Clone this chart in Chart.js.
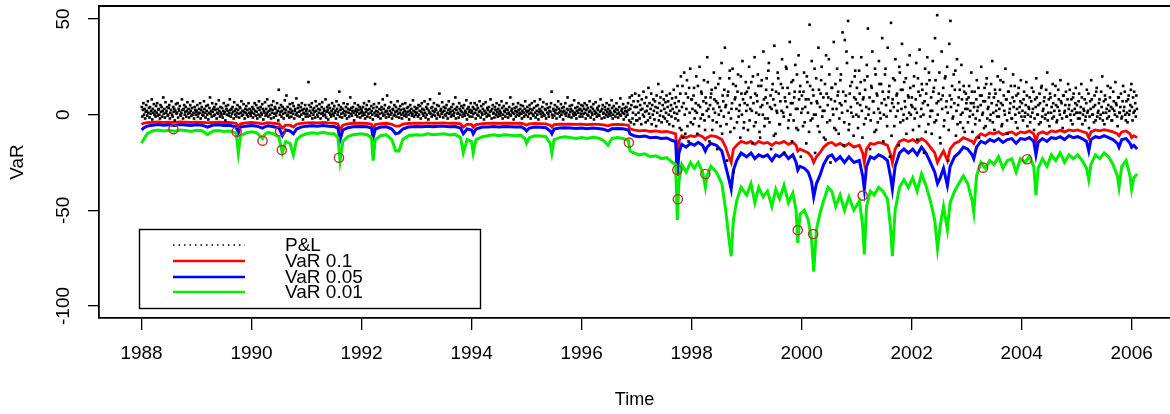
<!DOCTYPE html>
<html>
<head>
<meta charset="utf-8">
<script src="https://cdn.jsdelivr.net/npm/chart.js@4.4.1/dist/chart.umd.min.js"></script>
<style>
html,body{margin:0;padding:0;background:#fff;overflow:hidden}
canvas{display:block}
</style>
</head>
<body>
<canvas id="c" width="1170" height="414"></canvas>
<script>
// ---------- tick labels / names ----------
const xTicks = [1988, 1990, 1992, 1994, 1996, 1998, 2000, 2002, 2004, 2006];
const yTicks = [-100, -50, 0, 50];
const seriesNames = ['P&L', 'VaR 0.1', 'VaR 0.05', 'VaR 0.01'];

// ---------- VaR series (time in decimal years) ----------
const varTime = [
  1988.00,1988.04,1988.10,1988.20,1988.30,1988.40,1988.50,1988.60,1988.70,1988.80,
  1988.90,1989.00,1989.10,1989.20,1989.30,1989.40,1989.50,1989.60,1989.72,1989.76,
  1989.80,1989.90,1990.00,1990.10,1990.20,1990.25,1990.30,1990.40,1990.50,1990.56,
  1990.62,1990.70,1990.76,1990.82,1990.90,1991.00,1991.10,1991.20,1991.30,1991.40,
  1991.50,1991.57,1991.61,1991.66,1991.75,1991.85,1992.00,1992.10,1992.18,1992.21,
  1992.25,1992.35,1992.45,1992.55,1992.62,1992.68,1992.75,1992.85,1993.00,1993.10,
  1993.20,1993.30,1993.40,1993.50,1993.60,1993.70,1993.80,1993.85,1993.92,1994.00,
  1994.03,1994.08,1994.20,1994.30,1994.40,1994.50,1994.60,1994.70,1994.80,1994.90,
  1994.97,1995.00,1995.05,1995.15,1995.25,1995.35,1995.43,1995.46,1995.50,1995.60,
  1995.70,1995.80,1995.90,1996.00,1996.10,1996.20,1996.30,1996.40,1996.48,1996.55,
  1996.65,1996.75,1996.85,
  1996.88,1996.95,1997.05,1997.15,1997.25,1997.35,1997.45,1997.55,1997.65,1997.71,
  1997.74,1997.77,1997.82,1997.90,1997.98,1998.05,1998.12,1998.20,1998.25,1998.28,
  1998.35,1998.45,1998.55,1998.62,1998.68,1998.72,1998.76,1998.82,1998.90,1999.00,
  1999.08,1999.15,1999.22,1999.30,1999.38,1999.46,1999.53,1999.60,1999.68,1999.76,
  1999.84,1999.90,1999.93,1999.97,2000.05,2000.12,2000.18,2000.22,2000.27,2000.33,
  2000.40,2000.48,2000.55,2000.62,2000.70,2000.78,2000.86,2000.95,2001.05,2001.11,
  2001.14,2001.18,2001.25,2001.32,2001.40,2001.48,2001.56,2001.62,2001.65,2001.70,
  2001.78,2001.86,2001.94,2002.02,2002.10,2002.18,2002.26,2002.34,2002.42,2002.47,
  2002.52,2002.58,2002.65,2002.70,2002.78,2002.86,2002.94,2003.02,2003.10,2003.13,
  2003.18,2003.26,2003.34,2003.42,2003.50,2003.58,2003.66,2003.74,2003.82,2003.90,
  2003.98,2004.06,2004.14,2004.22,2004.26,2004.30,2004.38,2004.46,2004.54,2004.62,
  2004.70,2004.78,2004.86,2004.94,2005.02,2005.10,2005.18,2005.22,2005.26,2005.34,
  2005.42,2005.50,2005.58,2005.66,2005.74,2005.77,2005.82,2005.90,2005.97,2006.00,
  2006.04,2006.10
];
const var10 = [
  -5,-4.5,-4.2,-4,-3.8,-4,-3.9,-4,-3.8,-3.9,
  -4.1,-3.9,-4,-4.3,-4,-3.9,-4.1,-4,-4.5,-6.5,
  -4.8,-4.3,-4.1,-4.3,-4.8,-4.4,-4.2,-4.5,-4.8,-7,
  -5.5,-5.5,-6.5,-5,-4.6,-4.3,-4.2,-4.3,-4.1,-4.3,
  -4.4,-4.8,-8,-5.5,-4.8,-4.5,-4.4,-4.5,-5,-7.5,
  -5.2,-4.7,-4.5,-5,-6,-6,-5,-4.6,-4.4,-4.5,
  -4.3,-4.5,-4.4,-4.3,-4.5,-4.4,-4.8,-6.5,-5,-5.2,
  -6.5,-5.2,-4.7,-4.6,-4.5,-4.6,-4.4,-4.5,-4.6,-4.5,
  -5,-5.5,-4.8,-4.6,-4.7,-4.8,-5.5,-6.5,-5.2,-5,
  -4.9,-5,-5.1,-5,-5.2,-5,-5.1,-5.3,-5.8,-5.2,
  -5.1,-5.2,-5.5,
  -7.5,-8,-8.5,-8.2,-8.8,-8.5,-9,-8.8,-9.5,-10,
  -20,-14,-11,-12,-11,-11.5,-10.5,-11.5,-13,-12,
  -11,-11.5,-13,-17,-22,-25,-18,-16,-14,-15,
  -14,-15.5,-14,-15,-14.5,-16,-14.5,-15,-14,-15.5,
  -14.5,-16,-19,-18,-19,-20,-22,-25,-22,-20,
  -17,-15,-14.5,-16,-15,-16.5,-15,-17,-16,-20,
  -25,-18,-15,-15.5,-14.5,-15,-16,-21,-25,-18,
  -14,-13,-14,-13,-14.5,-12.5,-14,-17,-20,-25,
  -22,-19,-24,-18,-15,-14,-12,-13,-14,-15,
  -12,-10,-11,-9.5,-10,-9,-10.5,-9.5,-9,-10.5,
  -9,-9.5,-8.5,-10,-14,-10,-9,-10,-8.5,-9,
  -8.2,-9,-8,-8.5,-8,-8.8,-9.5,-12,-9,-8,
  -8.5,-7.8,-8.3,-9,-10,-11,-9,-8.5,-10,-12,
  -11,-12
];
const var05 = [
  -8,-7,-6,-5.5,-5.2,-5.5,-5.3,-5.6,-5.2,-5.4,
  -5.6,-5.3,-5.5,-6.5,-5.4,-5.3,-5.6,-5.5,-6.5,-9.5,
  -6.5,-6,-5.7,-6,-7,-6.2,-5.8,-6.3,-7,-11,
  -8,-8.5,-10,-7.5,-6.5,-6,-5.8,-6,-5.7,-6,
  -6.2,-7,-13,-8,-6.8,-6.3,-6.2,-6.3,-7,-12,
  -7.5,-6.5,-6.3,-7.5,-10,-9.5,-7.5,-6.5,-6.2,-6.3,
  -6,-6.3,-6.1,-6,-6.3,-6.2,-7,-10,-7.5,-8,
  -10,-7.5,-6.5,-6.4,-6.2,-6.4,-6.2,-6.3,-6.5,-6.3,
  -7.5,-8.5,-7,-6.5,-6.6,-6.8,-8.5,-10,-7.5,-7,
  -6.9,-7,-7.2,-7,-7.3,-7,-7.2,-7.6,-8.5,-7.4,
  -7.2,-7.4,-8,
  -10,-11,-11.5,-11.2,-12,-11.8,-12.5,-12.2,-13.5,-14,
  -32,-20,-15.5,-17,-15,-16,-14.5,-16,-19,-17,
  -15,-16,-19,-27,-34,-39,-29,-24,-20,-22,
  -20,-23,-21,-22,-21,-24,-21,-22,-20,-23,
  -21,-25,-29,-27,-28,-30,-35,-43,-36,-32,
  -26,-22,-21,-24,-22,-25,-22,-25,-24,-32,
  -39,-27,-22,-23,-21,-22,-24,-33,-39,-27,
  -20,-18,-20,-18,-21,-17,-20,-25,-30,-36,
  -33,-28,-37,-27,-22,-20,-17,-18,-21,-23,
  -17,-14,-15,-13,-14,-12.5,-14.5,-13,-12.5,-15,
  -12.5,-13,-12,-14,-21,-14.5,-12.5,-14,-12,-12.5,
  -11.5,-13,-11,-12,-11.5,-12.5,-14,-19,-13,-11.5,
  -12,-11,-12,-13,-15,-17,-13,-12.5,-15,-17,
  -16,-18
];
const var01 = [
  -15,-13,-10,-8.5,-8,-8.5,-8.2,-8.6,-8,-8.3,
  -8.8,-8.2,-8.4,-10.5,-8.5,-8.3,-8.8,-8.6,-9.5,-20,
  -11,-9.5,-9,-9.5,-12.5,-10,-9.3,-10,-12,-20,
  -14,-15,-21,-13,-11,-10,-9.5,-9.8,-9.2,-9.8,
  -10,-12,-24,-14,-11.5,-10.5,-10,-10.5,-12,-24,
  -13,-11,-10.5,-13,-19,-19,-13,-11,-10.5,-10.8,
  -10,-10.5,-10.2,-10,-10.6,-10.3,-12,-20,-13,-14,
  -20,-13,-11.5,-11,-10.5,-11,-10.5,-10.8,-11,-10.8,
  -12.5,-15,-12,-11,-11.2,-11.5,-15,-20,-13,-12,
  -11.5,-12,-12.5,-12,-12.5,-11.8,-12.2,-13.5,-16,-12.5,
  -12,-12.5,-13.5,
  -19,-20,-21,-20.5,-22,-21.5,-23,-22.5,-25,-26,
  -55,-35,-26,-30,-25,-28,-25,-30,-38,-32,
  -27,-30,-36,-50,-65,-74,-55,-45,-38,-42,
  -36,-46,-38,-43,-40,-48,-39,-44,-37,-46,
  -41,-50,-67,-52,-50,-55,-65,-82,-60,-52,
  -45,-38,-40,-48,-42,-50,-43,-50,-45,-58,
  -73,-48,-40,-42,-38,-40,-44,-60,-74,-50,
  -38,-34,-38,-33,-40,-31,-37,-45,-55,-70,
  -58,-48,-60,-46,-40,-36,-32,-36,-45,-51,
  -32,-25,-28,-24,-26,-22,-28,-24,-23,-30,
  -23,-25,-22,-27,-42,-28,-23,-27,-21,-24,
  -20,-25,-21,-23,-21,-24,-28,-34,-26,-21,
  -23,-20,-22,-26,-32,-38,-27,-24,-32,-39,
  -33,-31
];

// ---------- VaR 0.01 exceedances (circled P&L) ----------
const excTime  = [1988.58,1989.73,1990.20,1990.52,1990.55,1991.59,1996.86,1997.74,1997.75,1998.25,1999.93,2000.21,2001.11,2003.30,2004.10];
const excValue = [-7.6,-8.9,-13.6,-8.7,-18.5,-22.5,-14.6,-28.9,-44.2,-31.0,-60.3,-62.4,-42.3,-27.7,-23.3];

// ---------- daily P&L, read per year (evenly spread within the year) ----------
const plYears = [1988,1989,1990,1991,1992,1993,1994,1995,1996,1997,1998,1999,2000,2001,2002,2003,2004,2005,2006];
const pl1988 = [4,-1,2.5,6,0,3,-2,1.5,5,2,-0.5,7,1,3.5,-1.5,4,0.5,2,8,-2.5,3,1,5.5,0,2,-1,4.5,1,6,-0.5,2.5,3,0,-2,5,1.5,4,-1,2,9,0.5,3,-1.5,6.5,1,2,4,-0.5,0,3.5,5,-2,1,2.5,7,0,-1,4,1.5,3,-3,2,5.5,0.5,1,6,-1.5,3,2,4.5,0,-0.5,1,8,2.5,-2,3,5,0,1.5,4,-1,2,6.5,0.5,3,-1.5,1,5,2,-0.5,3.5,0,7,1,-2,4,2.5,0,1.5];
const pl1989 = [2,5,-1,0.5,3,1,6,-2,2.5,4,0,1.5,-0.5,7,3,1,-1.5,4.5,2,0,5,-2.5,1,3.5,9,0.5,2,-1,6,1.5,3,-0.5,4,0,2.5,5.5,-2,1,3,0.5,7.5,2,-1,4,1,0,3.5,-1.5,2,6,0.5,1.5,-3,4.5,3,0,2,5,-0.5,1,8,2.5,-1,3,0.5,4,1.5,-2,6.5,2,0,3,-1,1,5,2.5,0.5,-1.5,4,3.5,1,7,-0.5,2,0,5.5,1.5,-2,3,1,4.5,0,2.5,-1,6,1,3,0.5,-0.5,2];
const pl1990 = [1,4,-1.5,3,0.5,6,2,-0.5,5,1.5,-2,3.5,0,7,2.5,-1,4,1,0,5.5,3,-2.5,2,1,6.5,-0.5,3,0.5,8,1.5,-1,4.5,2,0,3,-2,5,1,2.5,7,-1.5,0.5,4,3,-0.5,1,6,2,-3,13,3.5,0,1.5,5,-1,2,4,0.5,-2,3,7.5,1,2.5,10,-0.5,4,0,1.5,-1.5,5.5,3,1,-1,2,6,0.5,4.5,-2,2,3,0,8.5,1,-0.5,3.5,5,1.5,-1,2,4,0,6,2.5,-2.5,1,3,0.5,5,-1,2];
const pl1991 = [3,0.5,-1,17,5,2,-0.5,4,1,6,-2,2.5,0,3.5,1.5,-1.5,7,2,4.5,0,-1,3,1,5.5,2.5,-2,0.5,4,6.5,1,-0.5,3,2,0,8,-1.5,1.5,4,2.5,-2.5,5,1,3.5,0,-1,2,6,0.5,3,-0.5,4.5,1,2,-2,7,3,0,1.5,5,12,-1,2.5,4,0.5,-1.5,3,1,6,2,-0.5,0,4,1.5,-2,5.5,3,1,-1,2.5,9,0.5,3.5,-0.5,2,4,1,-3,6,2,0,3,1.5,-1,5,2.5,0.5,4,-1.5,1,3];
const pl1992 = [2,-0.5,4,1,6,0,-2,3,1.5,5,-1,2.5,0.5,7,3,-1.5,1,4.5,2,0,-2.5,3.5,5.5,1,16,-0.5,2,4,0,1.5,-1,6,3,0.5,-2,2.5,4,1,8,-0.5,3,0,5,1.5,-1.5,2,10,0.5,3.5,-1,4,2,0,6.5,1,-2,3,2.5,-0.5,5,0,1.5,4,-1,2,7,0.5,3,-1.5,1,4.5,2.5,0,-2,5.5,1,3,-0.5,2,6,0.5,-1,3.5,1.5,4,0,-2.5,2,5,1,3,-0.5,0.5,7.5,2,-1,4,1.5,0,3];
const pl1993 = [1,3.5,-1,5,0,2,4.5,-2,1.5,6,3,0.5,-0.5,2.5,7,1,-1.5,4,0,3,5.5,-2.5,2,1,8,0.5,3.5,-1,4,2,0,6,1.5,-0.5,3,2.5,-2,5,1,0,4.5,11,-1,2,3,0.5,6.5,1.5,-1.5,4,2,0,3.5,-0.5,5,1,-2,2.5,7,0.5,3,1.5,-1,4,0,2,5.5,-0.5,1,3,9,-2,2.5,4,0.5,1,-1.5,6,3,0,2,4.5,1.5,-1,3.5,0.5,5,-0.5,2,1,7.5,-2.5,3,0,4,1.5,-1,2.5,6,1];
const pl1994 = [2,-1,4,0.5,3,6,1,-2,2.5,5,0,3.5,-0.5,1.5,7,2,-1.5,4.5,1,0,3,5.5,-2.5,2,0.5,6.5,1,-1,3.5,2.5,0,4,-0.5,1.5,8,2,-2,3,5,0.5,1,-1.5,4,2.5,0,6,1.5,-1,3,0.5,5,2,-0.5,1,7,3.5,-2,0,4.5,2,1.5,-1,3,6,0.5,2.5,-1.5,1,4,0,9,-0.5,2,3,1,5.5,-2.5,0.5,3.5,2,-1,4,1.5,0,6,2.5,-0.5,1,3,5,0.5,-2,2,4.5,1,-1,3,7,0,2];
const pl1995 = [1.5,4,-1,2,0.5,5,3,-2,1,6,2.5,0,-0.5,3.5,7,1,-1.5,4.5,2,0,5,-2.5,1.5,3,8,0.5,2,-1,4,1,6.5,0,-0.5,3,2.5,-2,5.5,1,3.5,0.5,-1,2,4,1.5,6,12,0,-1.5,3,2,-0.5,5,1,2.5,-2,4,0.5,7,3,1,-1,2,5.5,0,3.5,1.5,-2.5,4,2,0.5,6,-0.5,1,3,9,2.5,-1,0,4.5,1.5,3,-1.5,5,2,0.5,-0.5,7.5,1,3.5,0,-2,2,4,1,6,2.5,-1,3,0.5,5];
const pl1996 = [2,-1,4.5,0.5,3,6,1,-2,2.5,5,0,3.5,-0.5,1.5,7,2,-1.5,4,1,0,3,5.5,-2.5,2,0.5,6.5,1,-1,3.5,2.5,0,4.5,-0.5,1.5,8,2,-2,3,5,0.5,1,-1.5,4,2.5,0,6,1.5,-1,3,0.5,5,2,-0.5,1,7.5,3.5,-2,0,4.5,2,1.5,-1,3,6,0.5,2.5,-1.5,1,4,0,8.5,-0.5,2,3,1,5.5,-2.5,0.5,3.5,2,-1,4,1.5,0,6,2.5,-3,9,3,-4,5,10,-2,1,7,-5,4,11,0,-3];
const pl1997 = [4,-3,7,1,10,-2,5,2.5,-5,8,3,0,12,-1,6,1.5,-4,9,2,4.5,-3,14,0.5,6,-1.5,3,11,-5,5,0,8,2,-2.5,7,4,-6,10,1,3.5,16,-3,6,-0.5,9,2,-4,12,5,-1,8,3,-2,6.5,1,10,-3.5,4,7,0,-5,11,2,5,-1,8.5,3,-6,13,1,6,-2,9,4,0.5,15,-3,7,2,-7,11,20,-8,4,15,-12,6,22,0,-10,11,3,18,-6,9,-14,14,1,24,-4,8];
const pl1998 = [8,3,-5,10,14,-2,2,6,20,1,-10,15,5,-6,25,4,-2,12,11,0,0,7,18,-3,-8,9,6,2,30,17,3,-1,-14,5,9,11,13,-8,-3,3,22,8,1,14,7,-4,-18,6,16,0,4,19,-6,2,27,-10,10,7,-1,13,35,4,5,-5,-24,10,12,1,19,23,-9,-2,3,6,24,16,-30,-7,8,9,15,3,-4,12,21,-1,2,5,-12,20,11,0,28,8,-7,-4,6,11,17,2];
const pl1999 = [12,5,-8,14,25,-3,3,9,17,2,-15,20,6,-6,30,11,-4,1,10,7,21,15,0,-9,-12,4,15,18,5,0,33,8,-6,-2,9,13,19,6,-2,23,27,-4,4,10,-18,3,13,16,8,-11,36,5,-10,12,2,1,22,19,11,-5,-5,7,16,2,29,14,1,-1,-20,9,7,25,24,4,14,-7,-3,11,38,0,6,17,-14,6,18,-3,9,12,26,3,-7,21,3,-8,31,8,12,15,-22,1];
const pl2000 = [10,3,-6,12,22,-4,4,8,-15,20,17,1,8,-9,47,15,-3,6,28,-2,13,10,0,24,-20,0,19,7,6,-6,35,13,-9,4,11,18,25,-1,2,9,-12,2,16,-13,31,11,-4,5,9,29,21,-3,-25,8,14,14,3,0,38,-7,7,16,-8,3,24,10,12,-10,-2,6,18,21,5,1,43,12,-16,-4,39,7,10,33,27,2,49,-8,-5,11,15,4,1,17,30,-1,-11,9,20,23,8,0];
const pl2001 = [14,6,-7,-1,23,11,5,17,30,2,-12,8,9,-5,18,13,-2,4,26,20,45,0,3,9,-18,-3,15,14,33,7,7,1,-9,24,21,-8,11,10,-4,3,28,16,1,-2,16,6,40,12,-14,0,8,21,24,5,-1,-6,35,9,12,15,-22,2,48,-11,6,8,19,4,-6,18,29,-1,10,11,2,6,-16,25,22,-4,13,3,37,13,-3,0,17,7,4,19,-10,-2,26,10,9,1,31,14,0,5];
const pl2002 = [9,4,-8,15,20,-2,3,8,27,1,-13,19,12,-6,34,10,-1,3,16,13,6,0,-20,7,24,-9,11,16,30,5,-5,22,18,-1,2,9,-10,2,28,12,14,-4,40,18,-3,6,52,0,7,11,22,-12,-15,8,33,3,10,14,-6,-3,19,20,4,7,25,1,-24,-8,37,10,49,4,8,15,-2,-1,21,6,13,23,-11,2,29,-5,5,9,17,13,-4,0,26,8,1,-7,15,12,-9,3,11,6];
const pl2003 = [8,3,-4,9,15,-1,2,6,22,12,-9,0,6,4,12,-5,-2,8,18,2,4,14,-12,-3,10,5,25,10,0,1,7,-7,14,7,-6,16,19,-2,3,4,9,11,-3,0,16,6,28,-4,1,9,-8,13,11,2,5,-1,20,7,-1,3,13,18,6,-6,-5,5,17,10,2,0,24,8,8,-3,-10,12,12,1,3,6,15,-2,-2,9,21,4,7,15,0,-4,10,3,-7,11,14,1,4,7,18,-1];
const pl2004 = [6,2,-3,8,12,-1,1,5,17,10,-6,0,4,3,9,-4,-1,7,14,1,3,12,-8,-2,8,4,19,9,0,0,5,-5,11,6,-4,14,15,-1,2,3,7,9,-2,0,13,5,22,-3,1,8,-6,11,9,1,4,-2,16,6,-1,2,10,15,5,-4,-3,4,13,8,2,0,18,7,6,-2,-7,10,10,1,2,5,12,-1,-1,8,16,3,5,13,0,-3,8,2,-5,9,11,0,3,6,14,1];
const pl2005 = [5,1,-2,7,11,-2,1,4,16,9,-5,0,3,2,8,-3,-1,6,13,1,2,11,-7,-1,7,3,18,8,0,0,4,-4,10,5,-3,12,14,-1,1,2,6,8,-2,0,12,4,20,-3,1,7,-5,10,8,1,3,-2,15,5,-1,2,9,14,4,-3,-3,3,12,7,2,0,17,6,5,-1,-6,9,9,1,1,4,11,-2,-1,7,15,2,4,12,0,-3,7,1,-4,8,10,0,2,5,13,16];
const pl2006 = [4,-3,9,1,12,2,6,-1,10,3];
const plSeries = [pl1988,pl1989,pl1990,pl1991,pl1992,pl1993,pl1994,pl1995,pl1996,pl1997,pl1998,pl1999,pl2000,pl2001,pl2002,pl2003,pl2004,pl2005,pl2006];

// ---------- build datasets ----------
const RED = '#ff0000', BLUE = '#0000ff', GREEN = '#00ee00';
function linePts(vals) { return varTime.map((t, i) => ({x: t, y: vals[i]})); }
const plData = [];
plSeries.forEach((vals, k) => {
  const span = plYears[k] === 2006 ? 0.1 : 1;
  vals.forEach((v, i) => plData.push({x: plYears[k] + (i + 0.5) * span / vals.length, y: v}));
});
const excData = excTime.map((t, i) => ({x: t, y: excValue[i]}));

Chart.defaults.font.family = '"Liberation Sans", Arial, Helvetica, sans-serif';
Chart.defaults.color = '#000';

const rPlugin = {
  id: 'rStyle',
  afterDraw(chart) {
    const ctx = chart.ctx, a = chart.chartArea;
    ctx.save();
    // top frame line
    ctx.strokeStyle = '#000'; ctx.lineWidth = 1.8;
    ctx.beginPath(); ctx.moveTo(a.left, a.top); ctx.lineTo(a.right, a.top); ctx.stroke();
    // legend
    const bx = 139, by = 229, bw = 342, bh = 80;
    ctx.fillStyle = '#fff'; ctx.fillRect(bx, by, bw, bh);
    ctx.lineWidth = 1.4; ctx.strokeRect(bx + 0.5, by + 0.5, bw - 1, bh - 1);
    const rowY = [245, 261, 277, 292];
    const cols = ['#000', RED, BLUE, GREEN];
    ctx.font = '19px "Liberation Sans", Arial, sans-serif';
    ctx.textBaseline = 'middle'; ctx.textAlign = 'left';
    seriesNames.forEach((name, i) => {
      ctx.beginPath();
      ctx.strokeStyle = cols[i];
      if (i === 0) { ctx.setLineDash([1.5, 4]); ctx.lineWidth = 1.5; }
      else { ctx.setLineDash([]); ctx.lineWidth = 2.4; }
      ctx.moveTo(173, rowY[i]); ctx.lineTo(245, rowY[i]); ctx.stroke();
      ctx.setLineDash([]);
      ctx.fillStyle = '#000';
      ctx.fillText(name, 285, rowY[i] + 1);
    });
    ctx.restore();
  }
};

new Chart(document.getElementById('c'), {
  type: 'scatter',
  data: {
    datasets: [
      {label: 'exceed', data: excData, pointStyle: 'circle', pointRadius: 4.6, pointBorderWidth: 1.4,
       borderColor: '#c0302a', backgroundColor: 'rgba(0,0,0,0)', showLine: false, order: 1},
      {label: seriesNames[0], data: plData, pointStyle: 'rect', pointRadius: 1.85, pointBorderWidth: 0,
       backgroundColor: '#000', borderColor: '#000', showLine: false, order: 2},
      {label: seriesNames[3], data: linePts(var01), showLine: true, borderColor: GREEN, borderWidth: 3,
       pointRadius: 0, tension: 0, fill: false, order: 3},
      {label: seriesNames[2], data: linePts(var05), showLine: true, borderColor: BLUE, borderWidth: 3,
       pointRadius: 0, tension: 0, fill: false, order: 4},
      {label: seriesNames[1], data: linePts(var10), showLine: true, borderColor: RED, borderWidth: 2.8,
       pointRadius: 0, tension: 0, fill: false, order: 5}
    ]
  },
  options: {
    responsive: false,
    animation: false,
    events: [],
    layout: {autoPadding: false, padding: {top: 6, left: 0, right: 0, bottom: 0}},
    plugins: {legend: {display: false}, tooltip: {enabled: false}},
    scales: {
      x: {
        type: 'linear', min: 1987.227, max: 2006.697,
        afterBuildTicks: s => { s.ticks = xTicks.map(v => ({value: v})); },
        afterFit: s => { s.height = 96; s.paddingLeft = 0; s.paddingRight = 0; },
        ticks: {autoSkip: false, minRotation: 0, maxRotation: 0, padding: 12, color: '#000',
                font: {size: 19}, callback: v => String(v)},
        grid: {drawOnChartArea: false, drawTicks: true, tickLength: 12, color: '#000', lineWidth: 1.3},
        border: {display: true, color: '#000', width: 1.8},
        title: {display: true, text: 'Time', color: '#000', font: {size: 18}, padding: {top: 0, bottom: 3}}
      },
      y: {
        type: 'linear', min: -106.27, max: 56.79,
        afterBuildTicks: s => { s.ticks = yTicks.map(v => ({value: v})); },
        afterFit: s => { s.width = 99; s.paddingTop = 0; s.paddingBottom = 0; },
        ticks: {autoSkip: false, minRotation: 90, maxRotation: 90, crossAlign: 'center', padding: 5,
                color: '#000', font: {size: 19}},
        grid: {drawOnChartArea: false, drawTicks: true, tickLength: 11, color: '#000', lineWidth: 1.3},
        border: {display: true, color: '#000', width: 1.8},
        title: {display: true, text: 'VaR', color: '#000', font: {size: 19}, padding: {top: 6, bottom: 0}}
      }
    }
  },
  plugins: [rPlugin]
});
</script>
</body>
</html>
